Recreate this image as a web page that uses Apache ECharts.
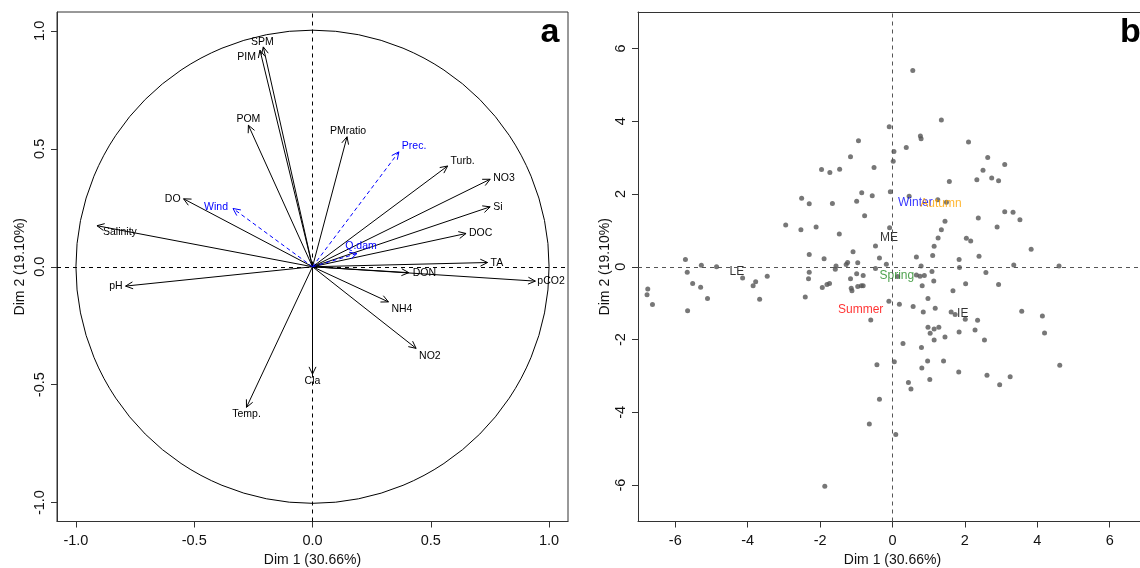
<!DOCTYPE html>
<html>
<head>
<meta charset="utf-8">
<script src="https://cdn.jsdelivr.net/npm/echarts@6/dist/echarts.min.js"></script>
<style>
html, body {margin: 0; padding: 0; background: #fff;}
#main {width: 1140px; height: 568px;}
</style>
</head>
<body>
<div id="main"></div>
<script>
// panel a : active variables (correlation circle)
var varNames = ['SPM', 'PIM', 'POM', 'PMratio', 'Turb.', 'NO3', 'Si', 'DOC', 'TA', 'DON', 'pCO2',
    'DO', 'Salinity', 'pH', 'NH4', 'NO2', 'Cla', 'Temp.'];
var varDim1 = [-0.208, -0.222, -0.271, 0.146, 0.571, 0.751, 0.751, 0.649, 0.740, 0.407, 0.942,
    -0.545, -0.911, -0.790, 0.321, 0.438, 0.000, -0.279];
var varDim2 = [0.932, 0.918, 0.600, 0.551, 0.427, 0.371, 0.254, 0.141, 0.018, -0.025, -0.061,
    0.288, 0.174, -0.082, -0.149, -0.346, -0.455, -0.596];
// supplementary variables (blue, dashed)
var supNames = ['Prec.', 'Q.dam', 'Wind'];
var supDim1 = [0.365, 0.188, -0.336];
var supDim2 = [0.487, 0.056, 0.247];
var ticksA = [-1, -0.5, 0, 0.5, 1];

// panel b : individuals
var indCoords = [
    [0.56, 5.39], [1.35, 4.03], [-0.09, 3.85], [0.77, 3.59], [0.79, 3.52], [-0.94, 3.46], [2.10, 3.43], [0.38, 3.28],
    [0.04, 3.17], [-1.16, 3.02], [2.63, 3.00], [0.02, 2.90], [3.10, 2.81], [-0.51, 2.73], [-1.96, 2.67], [-1.46, 2.68],
    [-1.73, 2.59], [2.50, 2.65], [2.33, 2.39], [2.74, 2.44], [2.93, 2.36], [1.57, 2.34], [-0.85, 2.03], [-0.06, 2.06],
    [-0.56, 1.95], [-2.51, 1.88], [0.46, 1.94], [-2.30, 1.73], [-1.66, 1.74], [-0.99, 1.80], [1.25, 1.84], [1.49, 1.77],
    [-0.77, 1.40], [3.10, 1.51], [3.33, 1.50], [3.52, 1.29], [2.37, 1.34], [1.45, 1.25], [-2.95, 1.15], [-2.53, 1.02],
    [-2.11, 1.09], [-0.08, 1.07], [1.35, 1.02], [2.89, 1.09], [-1.47, 0.90], [1.26, 0.79], [2.04, 0.78], [2.16, 0.71],
    [-0.47, 0.57], [1.15, 0.56], [3.83, 0.48], [-1.09, 0.41], [-2.30, 0.34], [1.11, 0.31], [0.66, 0.27], [2.39, 0.29],
    [-5.72, 0.20], [-1.89, 0.22], [-0.36, 0.24], [1.84, 0.20], [-1.24, 0.12], [-0.96, 0.11], [-1.28, 0.06], [-0.17, 0.07],
    [3.35, 0.05], [4.60, 0.02], [-5.28, 0.04], [-4.86, 0.00], [-1.56, 0.02], [-1.58, -0.07], [0.79, 0.02], [1.85, -0.02],
    [-0.47, -0.05], [-5.67, -0.15], [-2.30, -0.15], [1.09, -0.13], [2.58, -0.16], [-4.14, -0.31], [-3.46, -0.26], [-2.32, -0.33],
    [-0.99, -0.19], [-0.81, -0.24], [0.66, -0.23], [0.76, -0.26], [0.88, -0.24], [-1.16, -0.33], [0.14, -0.27], [-5.52, -0.46],
    [-3.78, -0.41], [-1.74, -0.46], [-1.81, -0.49], [1.14, -0.39], [2.02, -0.47], [2.93, -0.49],
    [-5.30, -0.56], [-6.76, -0.61], [-6.78, -0.77], [-6.63, -1.04], [-5.66, -1.21], [-5.11, -0.87], [-3.85, -0.52], [-3.67, -0.89],
    [-2.41, -0.83], [-1.94, -0.57], [-1.14, -0.59], [-1.12, -0.66], [-0.96, -0.54], [-0.86, -0.52], [-0.81, -0.52], [-0.10, -0.95],
    [-0.60, -1.46], [0.19, -1.03], [0.57, -1.09], [0.82, -0.52], [0.85, -1.24], [0.98, -0.87], [1.18, -1.14], [1.67, -0.66],
    [1.62, -1.24], [1.73, -1.31], [2.01, -1.44], [2.35, -1.47], [3.57, -1.22], [4.14, -1.35], [0.98, -1.66], [1.15, -1.71],
    [1.28, -1.66], [1.04, -1.83], [1.84, -1.79], [2.28, -1.74], [4.20, -1.82], [1.15, -2.01], [1.45, -1.93], [2.54, -2.01],
    [0.29, -2.11], [0.80, -2.22], [-0.43, -2.69], [0.05, -2.61], [0.97, -2.59], [1.41, -2.59], [4.62, -2.71], [0.81, -2.78],
    [1.83, -2.89], [2.61, -2.98], [3.25, -3.02], [2.96, -3.24], [0.44, -3.18], [0.51, -3.36], [1.03, -3.10], [-0.36, -3.64],
    [-0.64, -4.32], [0.09, -4.61], [-1.87, -6.03]
];
// category centres (supplementary qualitative variables)
var catNames = ['Winter', 'Autumn', 'ME', 'LE', 'Spring', 'Summer', 'IE'];
var catDim1 = [0.63, 1.34, -0.10, -4.30, 0.12, -0.88, 1.94];
var catDim2 = [1.77, 1.72, 0.81, -0.14, -0.24, -1.19, -1.30];
var catColors = ['#0000ff', '#ffa500', '#000000', '#000000', '#228b22', '#ff0000', '#000000'];
var ticksB = [-6, -4, -2, 0, 2, 4, 6];

var FONT = '"Liberation Sans", Arial, sans-serif';

// where each arrow label sits relative to the arrow tip: [dx, dy, align]
var labelAt = {
    'SPM': [-1, -5, 'center'], 'PIM': [-4, 7, 'right'], 'POM': [0, -6, 'center'], 'PMratio': [1, -6, 'center'],
    'Prec.': [3, -6, 'left'], 'Turb.': [3, -5, 'left'], 'NO3': [3, -1, 'left'], 'Si': [3, 0, 'left'],
    'DOC': [3, 0, 'left'], 'TA': [3, 1, 'left'], 'DON': [4, 0, 'left'], 'pCO2': [2, 0, 'left'],
    'Q.dam': [4, -7, 'center'], 'Wind': [-5, -1, 'right'], 'DO': [-3, 0, 'right'], 'Salinity': [6, 6, 'left'],
    'pH': [-3, 0, 'right'], 'NH4': [3, 7, 'left'], 'NO2': [3, 8, 'left'], 'Cla': [0, 7, 'center'], 'Temp.': [0, 7, 'center']
};

function arrowRenderer(names, color, dash) {
    return function (params, api) {
        var o = api.coord([0, 0]);
        var p = api.coord([api.value(0), api.value(1)]);
        var ang = Math.atan2(p[1] - o[1], p[0] - o[0]);
        var len = 8, spread = Math.PI / 7;
        var h1 = [p[0] - len * Math.cos(ang - spread), p[1] - len * Math.sin(ang - spread)];
        var h2 = [p[0] - len * Math.cos(ang + spread), p[1] - len * Math.sin(ang + spread)];
        var name = names[params.dataIndex];
        var at = labelAt[name] || [3, 0, 'left'];
        return {
            type: 'group',
            children: [
                {type: 'line', shape: {x1: o[0], y1: o[1], x2: p[0], y2: p[1]},
                    style: {stroke: color, lineWidth: 1, lineDash: dash}},
                {type: 'polyline', shape: {points: [h1, p, h2]},
                    style: {stroke: color, lineWidth: 1, fill: 'none'}},
                {type: 'text', x: p[0] + at[0], y: p[1] + at[1],
                    style: {text: name, fill: color, fontSize: 10.5, fontFamily: FONT,
                        align: at[2], verticalAlign: 'middle'}}
            ]
        };
    };
}

function pairs(a, b) {
    var out = [];
    for (var i = 0; i < a.length; i++) out.push([a[i], b[i]]);
    return out;
}

function makeAxis(grid, min, max, ticks, digits, name, isY, gap) {
    return {
        type: 'value', gridIndex: grid, min: min, max: max,
        name: name, nameLocation: 'middle', nameGap: gap,
        nameTextStyle: {fontSize: 14, color: '#111', fontFamily: FONT},
        axisLine: {show: true, onZero: false, lineStyle: {color: '#333', width: 1}},
        axisTick: {show: true, length: 6, inside: false, customValues: ticks, lineStyle: {color: '#333'}},
        axisLabel: {
            customValues: ticks, rotate: isY ? 90 : 0, margin: isY ? 10 : 12,
            fontSize: 14.5, color: '#111', fontFamily: FONT,
            formatter: function (v) { return Number(v).toFixed(digits); }
        },
        splitLine: {show: false}
    };
}

var catData = [];
for (var i = 0; i < catNames.length; i++) {
    catData.push({value: [catDim1[i], catDim2[i]], name: catNames[i], label: {color: catColors[i]}});
}

// top frame line of panel b (its right edge lies outside the picture)
var topFrameB = {
    type: 'value', gridIndex: 1, position: 'top', min: -7.03, max: 7.03,
    axisLine: {show: true, onZero: false, lineStyle: {color: '#333', width: 1}},
    axisTick: {show: false}, axisLabel: {show: false}, splitLine: {show: false}
};

var chart = echarts.init(document.getElementById('main'));
var option = {
    backgroundColor: '#fff',
    animation: false,
    grid: [
        {left: 57, top: 12, width: 511, height: 509.5, show: true, borderColor: '#333', borderWidth: 1,
            outerBoundsMode: 'none', containLabel: false},
        {left: 638, top: 12, width: 509, height: 509.5, show: false,
            outerBoundsMode: 'none', containLabel: false}
    ],
    xAxis: [
        makeAxis(0, -1.08, 1.08, ticksA, 1, 'Dim 1 (30.66%)', false, 32),
        makeAxis(1, -7.03, 7.03, ticksB, 0, 'Dim 1 (30.66%)', false, 32),
        topFrameB
    ],
    yAxis: [
        makeAxis(0, -1.08, 1.08, ticksA, 1, 'Dim 2 (19.10%)', true, 30),
        makeAxis(1, -7.0, 7.0, ticksB, 0, 'Dim 2 (19.10%)', true, 26)
    ],
    graphic: [
        {type: 'text', x: 550, y: 33, style: {text: 'a', fontSize: 34, fontWeight: 'bold', fontFamily: FONT,
            fill: '#000', align: 'center', verticalAlign: 'middle'}},
        {type: 'text', x: 1120, y: 33, style: {text: 'b', fontSize: 34, fontWeight: 'bold', fontFamily: FONT,
            fill: '#000', align: 'left', verticalAlign: 'middle'}}
    ],
    series: [
        {
            // unit circle + zero lines
            type: 'custom', xAxisIndex: 0, yAxisIndex: 0, silent: true,
            data: [[0, 0]],
            renderItem: function (params, api) {
                var c = api.coord([0, 0]);
                var r = api.size([1, 0])[0];
                return {type: 'circle', shape: {cx: c[0], cy: c[1], r: r},
                    style: {stroke: '#000', fill: 'none', lineWidth: 1}};
            },
            markLine: {
                silent: true, symbol: 'none', label: {show: false},
                lineStyle: {color: '#000', type: [4, 4], width: 1},
                data: [{xAxis: 0}, {yAxis: 0}]
            }
        },
        {
            type: 'custom', xAxisIndex: 0, yAxisIndex: 0, silent: true,
            data: pairs(varDim1, varDim2),
            renderItem: arrowRenderer(varNames, '#000', null)
        },
        {
            type: 'custom', xAxisIndex: 0, yAxisIndex: 0, silent: true,
            data: pairs(supDim1, supDim2),
            renderItem: arrowRenderer(supNames, '#0000ff', [4, 3])
        },
        {
            type: 'scatter', xAxisIndex: 1, yAxisIndex: 1, silent: true,
            data: indCoords, symbolSize: 5,
            itemStyle: {color: '#555'},
            markLine: {
                silent: true, symbol: 'none', label: {show: false},
                lineStyle: {color: '#555', type: [4, 4], width: 1},
                data: [{xAxis: 0}, {yAxis: 0}]
            }
        },
        {
            type: 'scatter', xAxisIndex: 1, yAxisIndex: 1, silent: true,
            data: catData, symbolSize: 0,
            label: {show: true, position: 'inside', formatter: '{b}', fontSize: 12, fontFamily: FONT}
        }
    ]
};
chart.setOption(option);
</script>
</body>
</html>
